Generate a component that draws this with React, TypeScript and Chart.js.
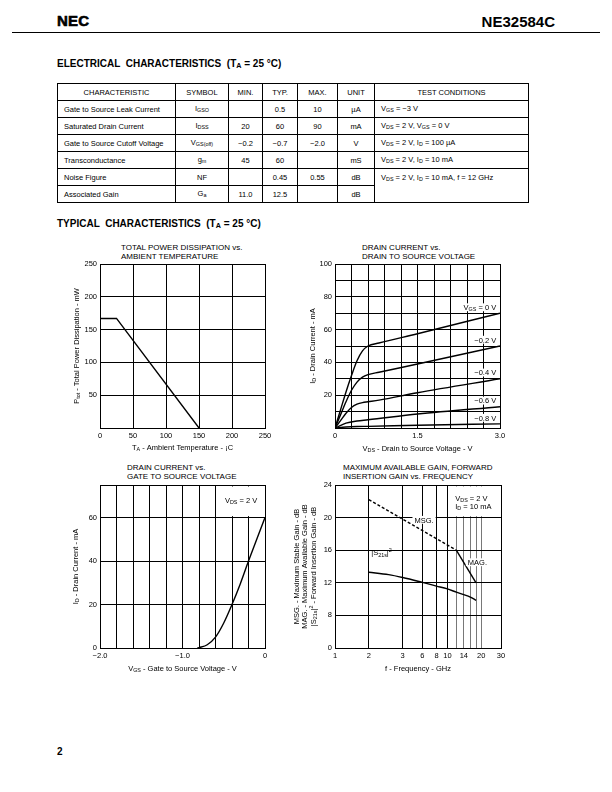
import React, { useEffect, useRef } from 'react';
import { Chart, registerables } from 'chart.js';

Chart.register(...registerables);

const FONT = '"Liberation Sans", Arial, Helvetica, sans-serif';

// ---------- table data ----------
const tableHeaders = ['CHARACTERISTIC', 'SYMBOL', 'MIN.', 'TYP.', 'MAX.', 'UNIT', 'TEST CONDITIONS'];
const charNames = ['Gate to Source Leak Current', 'Saturated Drain Current', 'Gate to Source Cutoff Voltage', 'Transconductance', 'Noise Figure', 'Associated Gain'];
const symbols = ['I_{GSO}', 'I_{DSS}', 'V_{GS(off)}', 'g_{m}', 'NF', 'G_{a}'];
const minVals = ['', '20', '−0.2', '45', '', '11.0'];
const typVals = ['0.5', '60', '−0.7', '60', '0.45', '12.5'];
const maxVals = ['10', '90', '−2.0', '', '0.55', ''];
const units = ['µA', 'mA', 'V', 'mS', 'dB', 'dB'];
const testConds = ['V_{GS} = −3 V', 'V_{DS} = 2 V, V_{GS} = 0 V', 'V_{DS} = 2 V, I_{D} = 100 µA', 'V_{DS} = 2 V, I_{D} = 10 mA', 'V_{DS} = 2 V, I_{D} = 10 mA, f = 12 GHz', null];

// ---------- chart 1: power dissipation vs temperature ----------
const pdTemp = [0, 25, 150];
const pdPower = [167, 167, 0];
const c1XGrid = [0, 50, 100, 150, 200, 250];
const c1XLabels = [0, 50, 100, 150, 200, 250];
const c1YGrid = [0, 50, 100, 150, 200, 250];
const c1YLabels = [50, 100, 150, 200, 250];

// ---------- chart 2: Id vs Vds ----------
const vdsA = [0, 0.1, 0.2, 0.3, 0.4, 0.5, 0.6, 0.8, 1.5, 3.0];
const idVgs0 = [0, 11, 22, 32, 41, 47, 50, 51.8, 57.5, 70];
const idVgsM02 = [0, 8, 16, 23, 28, 31, 32.5, 34, 39, 50];
const idVgsM04 = [0, 4.5, 9, 12.5, 14.5, 15.5, 16, 17, 21.5, 30];
const vdsB = [0, 0.2, 0.4, 0.6, 1.5, 3.0];
const idVgsM06 = [0, 3, 4.3, 5, 8.5, 13];
const idVgsM08 = [0, 0.6, 0.9, 1, 1.7, 2.5];
const c2CurveNames = ['V_{GS} = 0 V', '−0.2 V', '−0.4 V', '−0.6 V', '−0.8 V'];
const c2LabelY = [73.5, 53.7, 33.7, 16.6, 6.1];
const c2XGrid = [0, 0.3, 0.6, 0.9, 1.2, 1.5, 1.8, 2.1, 2.4, 2.7, 3.0];
const c2XLabels = [0, 1.5, 3.0];
const c2XTexts = ['0', '1.5', '3.0'];
const c2YGrid = [0, 10, 20, 30, 40, 50, 60, 70, 80, 90, 100];
const c2YLabels = [20, 40, 60, 80, 100];

// ---------- chart 3: Id vs Vgs ----------
const vgs = [-0.82, -0.8, -0.7, -0.6, -0.5, -0.4, -0.3, -0.2, -0.1, 0];
const idAtVgs = [0, 0.2, 1.5, 5, 11.5, 20, 29.5, 40, 50, 60];
const c3XGrid = [-2, -1.8, -1.6, -1.4, -1.2, -1, -0.8, -0.6, -0.4, -0.2, 0];
const c3XLabels = [-2, -1, 0];
const c3XTexts = ['−2.0', '−1.0', '0'];
const c3YGrid = [0, 20, 40, 60, 75];
const c3YLabels = [0, 20, 40, 60];

// ---------- chart 4: gain vs frequency ----------
const msgFreq = [2, 12];
const msgGain = [22.2, 16];
const magFreq = [12, 18];
const magGain = [16, 12];
const s21Freq = [2, 3, 4, 6, 8, 10, 12, 14, 16, 18];
const s21Gain = [13.3, 13.0, 12.65, 12.05, 11.6, 11.25, 10.85, 10.55, 10.25, 9.85];
const c4XGrid = [1, 2, 4, 6, 8, 10, 12, 14, 16, 18, 20, 30];
const c4XLabels = [1, 2, 4, 6, 8, 10, 14, 20, 30];
const c4XTexts = ['1', '2', '3', '6', '8', '10', '14', '20', '30'];
const c4YGrid = [4, 8, 12, 16, 20, 24];
const c4YLabels = [4, 8, 12, 16, 20, 24];
const c4YTexts = ['0', '8', '12', '16', '20', '24'];

// ---------- helpers ----------
type Run = { t: string; k: 'n' | 'sub' | 'sup' };
function parseRich(s: string): Run[] {
  const runs: Run[] = [];
  const re = /([_^])\{([^}]*)\}/g;
  let last = 0;
  let m: RegExpExecArray | null;
  while ((m = re.exec(s))) {
    if (m.index > last) runs.push({ t: s.slice(last, m.index), k: 'n' });
    runs.push({ t: m[2], k: m[1] === '_' ? 'sub' : 'sup' });
    last = re.lastIndex;
  }
  if (last < s.length) runs.push({ t: s.slice(last), k: 'n' });
  return runs;
}

function Rich({ s }: { s: string }) {
  return (
    <>
      {parseRich(s).map((r, i) =>
        r.k === 'n' ? (
          <span key={i}>{r.t}</span>
        ) : (
          <span key={i} style={{ fontSize: '0.72em', position: 'relative', top: r.k === 'sub' ? '0.2em' : '-0.45em' }}>{r.t}</span>
        )
      )}
    </>
  );
}

function drawRich(ctx: CanvasRenderingContext2D, s: string, x: number, y: number, size: number, align: string, bg = false) {
  const runs = parseRich(s);
  const small = size * 0.72;
  const fnt = (sz: number) => `${sz}px ${FONT}`;
  const widths = runs.map((r) => {
    ctx.font = fnt(r.k === 'n' ? size : small);
    return ctx.measureText(r.t).width;
  });
  const total = widths.reduce((a, b) => a + b, 0);
  let cx = align === 'left' ? x : align === 'right' ? x - total : x - total / 2;
  const base = y + size * 0.35;
  if (bg) {
    ctx.fillStyle = '#fff';
    ctx.fillRect(cx - 2, y - size * 0.55, total + 4, size * 1.05);
  }
  ctx.fillStyle = '#000';
  ctx.textAlign = 'left';
  ctx.textBaseline = 'alphabetic';
  runs.forEach((r, i) => {
    ctx.font = fnt(r.k === 'n' ? size : small);
    const dy = r.k === 'sub' ? size * 0.18 : r.k === 'sup' ? -size * 0.4 : 0;
    ctx.fillText(r.t, cx, base + dy);
    cx += widths[i];
  });
}

const notesPlugin = {
  id: 'notes',
  beforeDatasetsDraw(chart: any, _a: any, opts: any) {
    const { ctx, scales } = chart;
    const xs = scales.x;
    const ys = scales.y;
    (opts.boxes || []).forEach((b: any) => {
      const x1 = xs.getPixelForValue(b.x0);
      const x2 = xs.getPixelForValue(b.x1);
      const y1 = ys.getPixelForValue(b.y0);
      const y2 = ys.getPixelForValue(b.y1);
      ctx.save();
      ctx.fillStyle = '#fff';
      ctx.fillRect(Math.min(x1, x2) + 1.5, Math.min(y1, y2) + 1.5, Math.abs(x2 - x1) - 3, Math.abs(y2 - y1) - 3);
      ctx.restore();
    });
  },
  afterDatasetsDraw(chart: any, _a: any, opts: any) {
    const { ctx, scales, chartArea } = chart;
    const xs = scales.x;
    const ys = scales.y;
    ctx.save();
    (opts.labels || []).forEach((l: any) => {
      drawRich(ctx, l.text, xs.getPixelForValue(l.x), ys.getPixelForValue(l.y), 7.5, l.align || 'center', !!l.bg);
    });
    if (opts.xTitle) {
      drawRich(ctx, opts.xTitle.text, (chartArea.left + chartArea.right) / 2, chartArea.bottom + opts.xTitle.gap, 7.5, 'center');
    }
    (opts.yTitles || []).forEach((t: any) => {
      ctx.save();
      ctx.translate(chartArea.left - t.gap, (chartArea.top + chartArea.bottom) / 2 + (t.dy || 0));
      ctx.rotate(-Math.PI / 2);
      drawRich(ctx, t.text, 0, 0, 7.5, 'center');
      ctx.restore();
    });
    ctx.restore();
  },
};

const Y_AXIS_W = 22;
const X_AXIS_H = 14;

function axis(kind: 'x' | 'y', type: string, min: number, max: number, grid: number[], labelVals: number[], labelTexts: string[] | null, gridExtra: any = {}) {
  return {
    type,
    min,
    max,
    afterBuildTicks: (s: any) => {
      s.ticks = grid.map((v) => ({ value: v }));
    },
    afterFit: (s: any) => {
      if (kind === 'x') {
        s.height = X_AXIS_H;
        s.paddingLeft = 0;
        s.paddingRight = 0;
      } else {
        s.width = Y_AXIS_W;
        s.paddingTop = 0;
        s.paddingBottom = 0;
      }
    },
    ticks: {
      autoSkip: false,
      maxRotation: 0,
      minRotation: 0,
      padding: 3,
      color: '#000',
      font: { family: FONT, size: 7.5 },
      callback: (v: number) => {
        const i = labelVals.findIndex((l) => Math.abs(l - v) < 1e-6);
        if (i < 0) return '';
        return labelTexts ? labelTexts[i] : String(labelVals[i]);
      },
    },
    grid: { color: '#000', lineWidth: 1, drawTicks: false, ...gridExtra },
    border: { color: '#000', width: 1 },
  };
}

function line(xs: number[], ys: number[], extra: any = {}) {
  return {
    data: xs.map((x, i) => ({ x, y: ys[i] })),
    showLine: true,
    borderColor: '#000',
    borderWidth: 1.4,
    pointRadius: 0,
    fill: false,
    ...extra,
  };
}

function baseOptions(padding: any, scales: any, notes: any) {
  return {
    type: 'scatter',
    options: {
      responsive: false,
      animation: false,
      events: [],
      layout: { padding },
      plugins: { legend: { display: false }, tooltip: { enabled: false }, notes },
      scales,
    },
  };
}

type Box = { l: number; t: number; w: number; h: number };
type Plot = { l: number; t: number; r: number; b: number };

function ChartBox({ box, plot, build }: { box: Box; plot: Plot; build: (p: any) => any }) {
  const ref = useRef<HTMLCanvasElement>(null);
  useEffect(() => {
    const padding = {
      left: plot.l - box.l - Y_AXIS_W,
      top: plot.t - box.t,
      right: box.l + box.w - plot.r,
      bottom: box.t + box.h - plot.b - X_AXIS_H,
    };
    const cfg = build(padding);
    const chart = new Chart(ref.current as HTMLCanvasElement, { ...cfg, plugins: [notesPlugin] } as any);
    return () => chart.destroy();
  }, []);
  return <canvas ref={ref} width={box.w} height={box.h} style={{ position: 'absolute', left: box.l, top: box.t, width: box.w, height: box.h }} />;
}

const build1 = (padding: any) => ({
  ...baseOptions(
    padding,
    {
      x: axis('x', 'linear', 0, 250, c1XGrid, c1XLabels, null),
      y: axis('y', 'linear', 0, 250, c1YGrid, c1YLabels, null),
    },
    {
      xTitle: { text: 'T_{A} - Ambient Temperature - ¡C', gap: 19 },
      yTitles: [{ text: 'P_{tot} - Total Power Dissipation - mW', gap: 24 }],
    }
  ),
  data: { datasets: [line(pdTemp, pdPower)] },
});

const build2 = (padding: any) => ({
  ...baseOptions(
    padding,
    {
      x: axis('x', 'linear', 0, 3, c2XGrid, c2XLabels, c2XTexts),
      y: axis('y', 'linear', 0, 100, c2YGrid, c2YLabels, null),
    },
    {
      labels: c2CurveNames.map((t, i) => ({ text: t, x: 2.93, y: c2LabelY[i], align: 'right', bg: true })),
      xTitle: { text: 'V_{DS} - Drain to Source Voltage - V', gap: 20 },
      yTitles: [{ text: 'I_{D} - Drain Current - mA', gap: 23 }],
    }
  ),
  data: {
    datasets: [
      line(vdsA, idVgs0, { cubicInterpolationMode: 'monotone' }),
      line(vdsA, idVgsM02, { cubicInterpolationMode: 'monotone' }),
      line(vdsA, idVgsM04, { cubicInterpolationMode: 'monotone' }),
      line(vdsB, idVgsM06, { cubicInterpolationMode: 'monotone' }),
      line(vdsB, idVgsM08, { cubicInterpolationMode: 'monotone' }),
    ],
  },
});

const build3 = (padding: any) => ({
  ...baseOptions(
    padding,
    {
      x: axis('x', 'linear', -2, 0, c3XGrid, c3XLabels, c3XTexts),
      y: axis('y', 'linear', 0, 75, c3YGrid, c3YLabels, null),
    },
    {
      boxes: [{ x0: -0.6, x1: 0, y0: 60, y1: 75 }],
      labels: [{ text: 'V_{DS} = 2 V', x: -0.29, y: 68 }],
      xTitle: { text: 'V_{GS} - Gate to Source Voltage - V', gap: 20 },
      yTitles: [{ text: 'I_{D} - Drain Current - mA', gap: 25 }],
    }
  ),
  data: { datasets: [line(vgs, idAtVgs, { cubicInterpolationMode: 'monotone' })] },
});

const thin = (c: any) => c.tick && c.tick.value > 10 && c.tick.value < 30;
const build4 = (padding: any) => ({
  ...baseOptions(
    padding,
    {
      x: axis('x', 'logarithmic', 1, 30, c4XGrid, c4XLabels, c4XTexts, {
        color: (c: any) => (thin(c) ? '#555' : '#000'),
        lineWidth: (c: any) => (thin(c) ? 0.8 : 1),
      }),
      y: axis('y', 'linear', 4, 24, c4YGrid, c4YLabels, c4YTexts),
    },
    {
      boxes: [{ x0: 10, x1: 30, y0: 20, y1: 24 }],
      labels: [
        { text: 'V_{DS} = 2 V', x: 11.75, y: 22.4, align: 'left' },
        { text: 'I_{D} = 10 mA', x: 11.75, y: 21.4, align: 'left' },
        { text: 'MSG.', x: 6.2, y: 19.7, bg: true },
        { text: 'MAG.', x: 18.5, y: 14.5, bg: true },
        { text: '|S_{21s}|^{2}', x: 2.1, y: 15.7, align: 'left' },
      ],
      xTitle: { text: 'f - Frequency - GHz', gap: 20 },
      yTitles: [
        { text: 'MSG. - Maximum Stable Gain - dB', gap: 39 },
        { text: 'MAG. - Maximum Available Gain - dB', gap: 31 },
        { text: '|S_{21s}|^{2} - Forward Insertion Gain - dB', gap: 22 },
      ],
    }
  ),
  data: {
    datasets: [
      line(msgFreq, msgGain, { borderDash: [3, 2] }),
      line(magFreq, magGain),
      line(s21Freq, s21Gain, { cubicInterpolationMode: 'monotone' }),
    ],
  },
});

const cell: React.CSSProperties = { border: '1px solid #000', padding: '0 6px', height: 16, whiteSpace: 'nowrap', overflow: 'hidden' };

function ChartTitle({ left, top, lines }: { left: number; top: number; lines: string[] }) {
  return (
    <div style={{ position: 'absolute', left, top, fontSize: 8, lineHeight: '9px', whiteSpace: 'pre' }}>
      {lines.map((l, i) => (
        <div key={i}>{l}</div>
      ))}
    </div>
  );
}

export default function App() {
  return (
    <div style={{ position: 'absolute', left: 0, top: 0, width: 612, height: 792, background: '#fff', color: '#000', fontFamily: FONT }}>
      <div style={{ position: 'absolute', left: 57, top: 13, fontSize: 15, lineHeight: '15px', fontWeight: 'bold', WebkitTextStroke: '0.6px #000', letterSpacing: 0.2 }}>NEC</div>
      <div style={{ position: 'absolute', right: 612 - 555, top: 14, fontSize: 15, lineHeight: '15px', fontWeight: 'bold' }}>NE32584C</div>
      <div style={{ position: 'absolute', left: 12, top: 32, width: 588, height: 1, background: '#000' }} />

      <div style={{ position: 'absolute', left: 57, top: 58.5, fontSize: 10, lineHeight: '10px', fontWeight: 'bold', whiteSpace: 'pre' }}>
        <Rich s={'ELECTRICAL  CHARACTERISTICS  (T_{A} = 25 °C)'} />
      </div>

      <table style={{ position: 'absolute', left: 57, top: 83, width: 471, borderCollapse: 'collapse', tableLayout: 'fixed', fontSize: 7.5, lineHeight: '9px' }}>
        <colgroup>
          {[118, 53, 34, 35, 40, 37, 154].map((w, i) => (
            <col key={i} style={{ width: w }} />
          ))}
        </colgroup>
        <tbody>
          <tr>
            {tableHeaders.map((h, i) => (
              <td key={i} style={{ ...cell, textAlign: 'center' }}>{h}</td>
            ))}
          </tr>
          {charNames.map((n, r) => (
            <tr key={r}>
              <td style={cell}>{n}</td>
              <td style={{ ...cell, textAlign: 'center' }}><Rich s={symbols[r]} /></td>
              <td style={{ ...cell, textAlign: 'center' }}>{minVals[r]}</td>
              <td style={{ ...cell, textAlign: 'center' }}>{typVals[r]}</td>
              <td style={{ ...cell, textAlign: 'center' }}>{maxVals[r]}</td>
              <td style={{ ...cell, textAlign: 'center' }}>{units[r]}</td>
              {testConds[r] !== null &&
                (r === 4 ? (
                  <td rowSpan={2} style={{ ...cell, verticalAlign: 'top', paddingTop: 4 }}><Rich s={testConds[r] as string} /></td>
                ) : (
                  <td style={cell}><Rich s={testConds[r] as string} /></td>
                ))}
            </tr>
          ))}
        </tbody>
      </table>

      <div style={{ position: 'absolute', left: 57, top: 218.5, fontSize: 10, lineHeight: '10px', fontWeight: 'bold', whiteSpace: 'pre' }}>
        <Rich s={'TYPICAL  CHARACTERISTICS  (T_{A} = 25 °C)'} />
      </div>

      <ChartTitle left={121} top={242.5} lines={['TOTAL POWER DISSIPATION vs.', 'AMBIENT TEMPERATURE']} />
      <ChartTitle left={362} top={242.5} lines={['DRAIN CURRENT vs.', 'DRAIN TO SOURCE VOLTAGE']} />
      <ChartTitle left={127} top={462.5} lines={['DRAIN CURRENT vs.', 'GATE TO SOURCE VOLTAGE']} />
      <ChartTitle left={343} top={463} lines={['MAXIMUM AVAILABLE GAIN, FORWARD', 'INSERTION GAIN vs. FREQUENCY']} />

      <ChartBox box={{ l: 50, t: 258, w: 230, h: 200 }} plot={{ l: 100, t: 264, r: 265, b: 428 }} build={build1} />
      <ChartBox box={{ l: 285, t: 258, w: 230, h: 200 }} plot={{ l: 335, t: 264, r: 500, b: 428 }} build={build2} />
      <ChartBox box={{ l: 50, t: 478, w: 230, h: 200 }} plot={{ l: 100, t: 485, r: 265, b: 648 }} build={build3} />
      <ChartBox box={{ l: 280, t: 478, w: 235, h: 200 }} plot={{ l: 335, t: 485, r: 501, b: 648 }} build={build4} />

      <div style={{ position: 'absolute', left: 57, top: 747, fontSize: 10, lineHeight: '10px', fontWeight: 'bold' }}>2</div>
    </div>
  );
}
